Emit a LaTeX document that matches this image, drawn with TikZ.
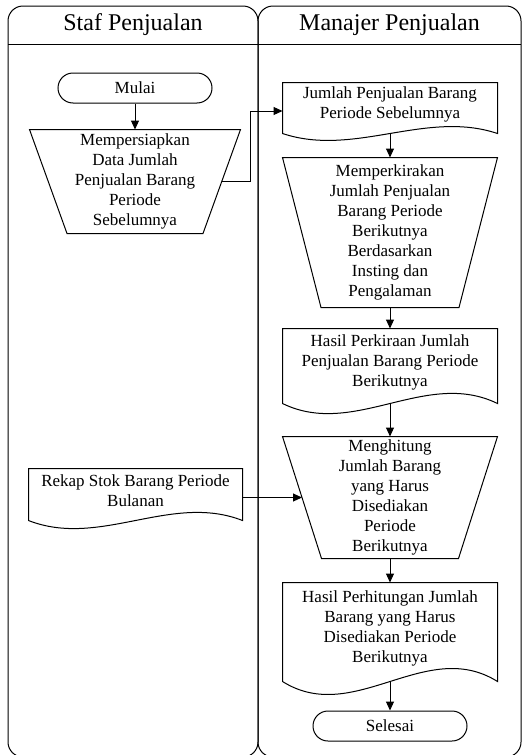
\documentclass[tikz,border=0pt]{standalone}
\usepackage{fontspec}
\setmainfont{Liberation Serif}
\usetikzlibrary{arrows.meta,positioning,calc}

% outline of a document node, wavy bottom (#2 = wave control height)
\newcommand{\docline}[2]{%
  \draw let \p1=(#1.south west), \p2=(#1.south east), \n1={(\x2-\x1)/3} in
    (#1.north west) -- (\x1,\y1-8pt)
    .. controls (\x1+\n1,\y1-8pt-#2) and (\x2-\n1,\y1-8pt+#2) .. (\x2,\y1-8pt)
    -- (#1.north east) -- cycle;}
% outline of a manual operation node (#2 = inset of the lower corners)
\newcommand{\manline}[2]{%
  \draw (#1.north west) -- (#1.north east) -- ([xshift=-#2]#1.south east)
    -- ([xshift=#2]#1.south west) -- cycle;}

\begin{document}
\begin{tikzpicture}[x=1pt,y=1pt,line width=1pt,>={Triangle[length=9pt,width=8pt]},
  font=\fontsize{17}{20}\selectfont,
  lane/.style={draw,rounded corners=15pt},
  ttl/.style={font=\fontsize{24}{28}\selectfont},
  term/.style={draw,rounded corners=15pt,minimum width=154pt,minimum height=30pt,inner sep=1pt},
  manual/.style={align=center,minimum width=214pt,inner sep=1pt},
  doc/.style={align=center,minimum width=214pt,inner sep=1pt},
  a/.style={->}]
  \useasboundingbox (0,0) rectangle (522,-755);
  % swimlanes
  \draw[lane] (8,-6) rectangle (258,-757);
  \draw[lane] (258,-6) rectangle (521,-757);
  \draw (8,-44) -- (521,-44);
  \node[ttl] (tstaf) at (133,-25) {Staf Penjualan};
  \node[ttl] (tmanajer) at (389.5,-25) {Manajer Penjualan};
  % staf penjualan
  \node[term] (mulai) at (135,-88) {Mulai};
  \node[manual,minimum width=210pt,minimum height=103pt] (siap) at (135,-181.5) {Mempersiapkan\\Data Jumlah\\Penjualan Barang\\Periode\\Sebelumnya};
  \node[doc,minimum width=213pt,minimum height=43pt] (rekap) at (135.5,-490.5) {Rekap Stok Barang Periode\\Bulanan};
  % manajer penjualan
  \node[doc,minimum height=42pt] (jual) at (390,-104) {Jumlah Penjualan Barang\\Periode Sebelumnya};
  \node[manual,minimum height=149pt] (kira) at (390,-232.5) {Memperkirakan\\Jumlah Penjualan\\Barang Periode\\Berikutnya\\Berdasarkan\\Insting dan\\Pengalaman};
  \node[doc,minimum height=66pt] (hkira) at (390,-362) {Hasil Perkiraan Jumlah\\Penjualan Barang Periode\\Berikutnya};
  \node[manual,minimum height=121pt] (hitung) at (390,-497.5) {Menghitung\\Jumlah Barang\\yang Harus\\Disediakan\\Periode\\Berikutnya};
  \node[doc,minimum height=90pt] (hhitung) at (390,-628) {Hasil Perhitungan Jumlah\\Barang yang Harus\\Disediakan Periode\\Berikutnya};
  \node[term,below=37pt of hhitung] (selesai) {Selesai};
  \manline{siap}{37.5pt}
  \manline{kira}{38.5pt}
  \manline{hitung}{39pt}
  \docline{jual}{24pt}
  \docline{hkira}{35pt}
  \docline{rekap}{28pt}
  \docline{hhitung}{45pt}
  % flow
  \draw[a] (mulai) -- (siap);
  \draw[a] ([xshift=-19pt]siap.east) -- ++(29,0) |- ([yshift=-7pt]jual.west);
  \draw[a] ([yshift=-8pt]jual.south) -- (kira);
  \draw[a] (kira) -- (hkira);
  \draw[a] ([yshift=-8pt]hkira.south) -- (hitung);
  \draw[a] (rekap.east |- hitung.west) -- ([xshift=19.5pt]hitung.west);
  \draw[a] (hitung) -- (hhitung);
  \draw[a] ([yshift=-8pt]hhitung.south) -- (selesai);
\end{tikzpicture}
\end{document}
